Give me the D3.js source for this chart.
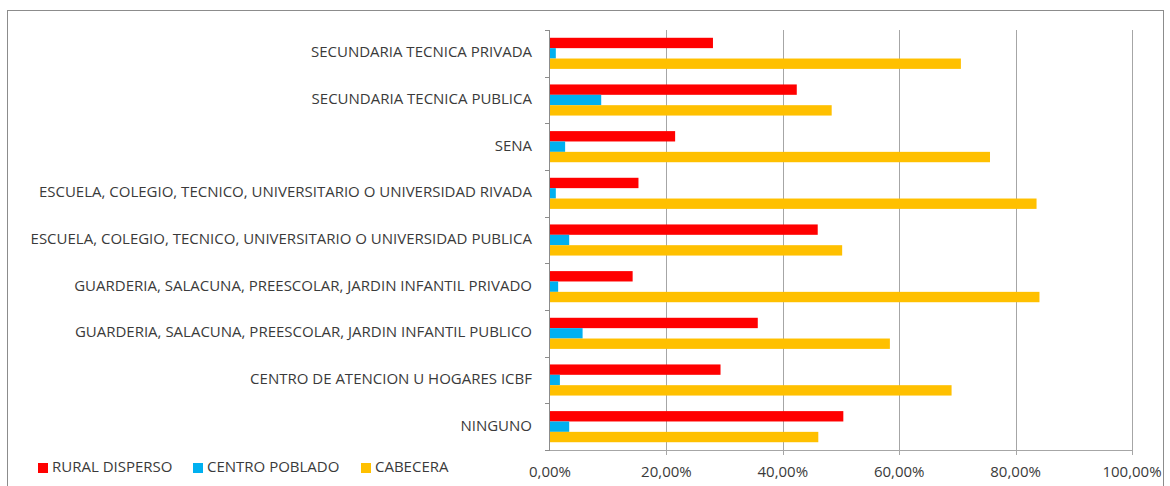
<!DOCTYPE html>
<html lang="es">
<head>
<meta charset="UTF-8">
<title>Tipo de institución por zona</title>
<style>
    html, body {
        margin: 0;
        padding: 0;
        background: #ffffff;
    }
    svg text {
        font-family: "Open Sans", "Liberation Sans", sans-serif;
        fill: #3a3a3a;
    }
</style>
</head>
<body>
<div id="chart"></div>
<script src="https://d3js.org/d3.v7.min.js"></script>
<script>
// categories, top to bottom as in the chart
const categories = [
    "SECUNDARIA TECNICA PRIVADA",
    "SECUNDARIA TECNICA PUBLICA",
    "SENA",
    "ESCUELA, COLEGIO, TECNICO, UNIVERSITARIO O UNIVERSIDAD RIVADA",
    "ESCUELA, COLEGIO, TECNICO, UNIVERSITARIO O UNIVERSIDAD PUBLICA",
    "GUARDERIA, SALACUNA, PREESCOLAR, JARDIN INFANTIL PRIVADO",
    "GUARDERIA, SALACUNA, PREESCOLAR, JARDIN INFANTIL PUBLICO",
    "CENTRO DE ATENCION U HOGARES ICBF",
    "NINGUNO"
];

const seriesNames = ["RURAL DISPERSO", "CENTRO POBLADO", "CABECERA"];
const seriesColors = ["#FF0000", "#00B0F0", "#FFC000"];

// shares (fraction) per category, same order as categories
const ruralDisperso = [0.280, 0.424, 0.215, 0.152, 0.460, 0.142, 0.357, 0.293, 0.504];
const centroPoblado = [0.010, 0.088, 0.026, 0.010, 0.033, 0.014, 0.056, 0.017, 0.033];
const cabecera      = [0.706, 0.484, 0.756, 0.836, 0.502, 0.841, 0.584, 0.690, 0.461];

const xTicks = [0, 0.2, 0.4, 0.6, 0.8, 1.0];

const width = 1170, height = 486;
const margin = {top: 30, left: 550, right: 1132, bottom: 450};
const fontSize = '15px';

const svg = d3.select('#chart')
    .append('svg')
    .attr('width', width)
    .attr('height', height);

// chart border
svg.append('rect')
    .attr('x', 7.5)
    .attr('y', 10.5)
    .attr('width', 1156)
    .attr('height', 490)
    .attr('fill', 'none')
    .attr('stroke', '#8c8c8c')
    .attr('stroke-width', 1);

const x = d3.scaleLinear().domain([0, 1]).range([margin.left, margin.right]);
const y = d3.scaleBand().domain(categories).range([margin.top, margin.bottom]);
const ySub = d3.scaleBand().domain(seriesNames)
    .range([0, y.bandwidth()])
    .paddingInner(0)
    .paddingOuter(0.75);

const locale = d3.formatLocale({decimal: ',', thousands: '.', grouping: [3], currency: ['$', '']});
const pct = locale.format('.2%');

// gridlines
svg.append('g')
    .selectAll('line')
    .data(xTicks.slice(1))
    .enter()
    .append('line')
    .attr('x1', d => Math.round(x(d)) + 0.5)
    .attr('x2', d => Math.round(x(d)) + 0.5)
    .attr('y1', margin.top)
    .attr('y2', margin.bottom + 5)
    .attr('stroke', '#a6a6a6')
    .attr('stroke-width', 1);

// bars
const values = [ruralDisperso, centroPoblado, cabecera];
const rows = categories.map((c, i) => ({cat: c, vals: seriesNames.map((s, j) => ({s, v: values[j][i], color: seriesColors[j]}))}));

svg.append('g')
    .selectAll('g')
    .data(rows)
    .enter()
    .append('g')
    .attr('transform', d => `translate(0,${y(d.cat)})`)
    .selectAll('rect')
    .data(d => d.vals)
    .enter()
    .append('rect')
    .attr('x', x(0))
    .attr('y', d => ySub(d.s))
    .attr('width', d => x(d.v) - x(0))
    .attr('height', ySub.bandwidth())
    .attr('fill', d => d.color);

// x axis line and labels
svg.append('line')
    .attr('x1', x(0))
    .attr('x2', margin.right + 1)
    .attr('y1', margin.bottom + 0.5)
    .attr('y2', margin.bottom + 0.5)
    .attr('stroke', '#a6a6a6');

svg.append('g')
    .selectAll('text')
    .data(xTicks)
    .enter()
    .append('text')
    .attr('x', d => x(d))
    .attr('y', 473)
    .attr('text-anchor', 'middle')
    .attr('dominant-baseline', 'middle')
    .attr('font-size', fontSize)
    .text(d => pct(d));

// y axis line and ticks
svg.append('line')
    .attr('x1', x(0) - 0.5)
    .attr('x2', x(0) - 0.5)
    .attr('y1', margin.top)
    .attr('y2', margin.bottom + 1)
    .attr('stroke', '#8c8c8c');

const yBounds = categories.map(c => y(c)).concat([margin.bottom]);
svg.append('g')
    .selectAll('line')
    .data(yBounds)
    .enter()
    .append('line')
    .attr('x1', x(0) - 5)
    .attr('x2', x(0))
    .attr('y1', d => Math.round(d) + 0.5)
    .attr('y2', d => Math.round(d) + 0.5)
    .attr('stroke', '#8c8c8c');

svg.append('g')
    .selectAll('text')
    .data(categories)
    .enter()
    .append('text')
    .attr('x', 532)
    .attr('y', d => y(d) + y.bandwidth() / 2)
    .attr('text-anchor', 'end')
    .attr('dominant-baseline', 'middle')
    .attr('font-size', fontSize)
    .text(d => d);

// legend
const legendX = [38, 193, 361];
const legend = svg.append('g')
    .selectAll('g')
    .data(seriesNames)
    .enter()
    .append('g')
    .attr('transform', (d, i) => `translate(${legendX[i]},463)`);

legend.append('rect')
    .attr('width', 10)
    .attr('height', 10)
    .attr('fill', (d, i) => seriesColors[i]);

legend.append('text')
    .attr('x', 14)
    .attr('y', 5)
    .attr('dominant-baseline', 'middle')
    .attr('font-size', fontSize)
    .text(d => d);
</script>
</body>
</html>
